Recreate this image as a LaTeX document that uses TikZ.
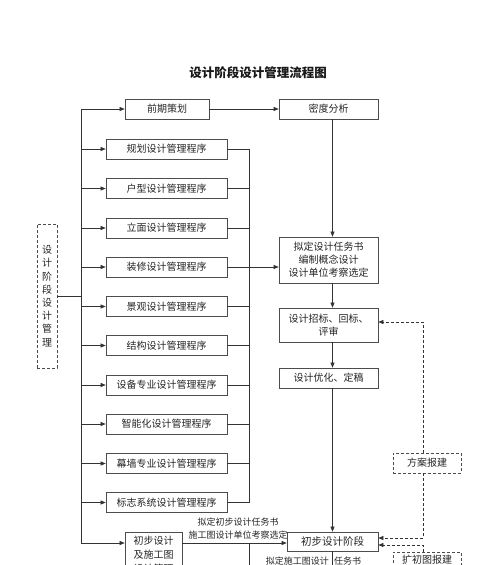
\documentclass[tikz,border=0pt]{standalone}
\usepackage{fontspec}
\setmainfont{Noto Sans CJK SC}
\usetikzlibrary{arrows.meta}
\begin{document}
\begin{tikzpicture}[x=1pt,y=-1pt,
  box/.style={draw=black!70, line width=0.7pt, fill=white, inner sep=0pt, align=center,
    font=\fontsize{10}{13}\selectfont, text=black!85},
  pbox/.style={box, minimum width=121pt, minimum height=20pt},
  dbox/.style={box, dash pattern=on 3pt off 2pt},
  ln/.style={line width=0.6pt, draw=black!80},
  arr/.style={ln, -{Triangle[length=5pt,width=4pt]}},
  darr/.style={arr, dash pattern=on 3pt off 2pt},
  lbl/.style={inner sep=0pt, font=\fontsize{9}{11}\selectfont, text=black!85}]
\useasboundingbox (0,0) rectangle (500,565);
\clip (0,0) rectangle (500,565);
\fill[white] (0,0) rectangle (500,565);

\node[font=\bfseries\fontsize{12.5}{14}\selectfont, text=black!90] (title) at (258,73) {设计阶段设计管理流程图};

% left column
\node[box, minimum width=84pt, minimum height=20pt] (qc) at (167,109) {前期策划};
\node[pbox] (p1) at (166.5,149) {规划设计管理程序};
\node[pbox] (p2) at (166.5,188.5) {户型设计管理程序};
\node[pbox] (p3) at (166.5,228) {立面设计管理程序};
\node[pbox] (p4) at (166.5,267) {装修设计管理程序};
\node[pbox] (p5) at (166.5,306.5) {景观设计管理程序};
\node[pbox] (p6) at (166.5,345.5) {结构设计管理程序};
\node[pbox] (p7) at (166.5,385) {设备专业设计管理程序};
\node[pbox] (p8) at (166.5,424) {智能化设计管理程序};
\node[pbox] (p9) at (166.5,463.5) {幕墙专业设计管理程序};
\node[pbox] (p10) at (166.5,502.5) {标志系统设计管理程序};
\node[box, minimum width=57pt, minimum height=46pt, font=\fontsize{10}{14}\selectfont] (lf) at (153.5,555) {初步设计\\及施工图\\设计管理};

\node[dbox, minimum width=20pt, minimum height=144pt, font=\fontsize{10}{13.2}\selectfont] (sj) at (47,296) {设\\计\\阶\\段\\设\\计\\管\\理};

% right column
\node[box, minimum width=99pt, minimum height=20pt] (md) at (328.5,109) {密度分析};
\node[box, minimum width=99pt, minimum height=46pt] (nd) at (328.5,260) {拟定设计任务书\\编制概念设计\\设计单位考察选定};
\node[box, minimum width=99pt, minimum height=34pt] (zb) at (328.5,325) {设计招标、回标、\\评审};
\node[box, minimum width=99pt, minimum height=20pt] (yh) at (328.5,378) {设计优化、定稿};
\node[box, minimum width=91pt, minimum height=19pt, font=\fontsize{10.5}{13}\selectfont] (cb) at (332.5,541.5) {初步设计阶段};
\node[dbox, minimum width=68pt, minimum height=20pt] (fa) at (427,463) {方案报建};
\node[dbox, minimum width=68pt, minimum height=16pt] (kc) at (427,560) {扩初图报建};

% labels
\node[lbl] (t1) at (238,522) {拟定初步设计任务书};
\node[lbl] (t2) at (238,535) {施工图设计单位考察选定};
\node[lbl, anchor=east] (t3) at (329,561) {拟定施工图设计};
\node[lbl, anchor=west] (t4) at (334,561) {任务书};

% coordinates
\coordinate (L1) at (81,109);
\coordinate (L2) at (81,543);
\coordinate (R1) at (249,149);
\coordinate (R2) at (249,502.5);
\coordinate (B1) at (332.5,600);
\coordinate (B2) at (249,600);
\coordinate (D1) at (423,322);
\coordinate (D2) at (423,538);
\coordinate (D3) at (423,545);

% left trunk
\draw[ln] (L1) -- (L2);
\draw[arr] (L1) -- (qc.west);
\foreach \n in {p1,p2,p3,p4,p5,p6,p7,p8,p9,p10}{
  \draw[arr] (\n.west -| L1) -- (\n.west);
  \draw[ln] (\n.east) -- (\n.east -| R1);
}
\draw[arr] (L2) -- (L2 -| lf.west);
\draw[ln] (sj.east) -- (sj.east -| L1);

% collector
\draw[ln] (R1) -- (R2);
\draw[arr] (p4.east -| R1) -- (p4.east -| nd.west);

% main chain
\draw[arr] (qc.east) -- (md.west);
\draw[arr] (md.south -| cb) -- (nd.north -| cb);
\draw[arr] (nd.south -| cb) -- (zb.north -| cb);
\draw[arr] (zb.south -| cb) -- (yh.north -| cb);
\draw[arr] (yh.south -| cb) -- (cb.north);
\draw[arr] (lf.east |- L2) -- (cb.west |- L2);
\draw[ln] (cb.south) -- (B1);
\draw[ln] (L2 -| R1) -- (B2);

% dashed feedback
\draw[darr] (fa.north -| D1) -- (D1) -- (D1 -| zb.east);
\draw[darr] (fa.south -| D2) -- (D2) -- (D2 -| cb.east);
\draw[darr] (kc.north -| D3) -- (D3) -- (D3 -| cb.east);
\end{tikzpicture}
\end{document}
